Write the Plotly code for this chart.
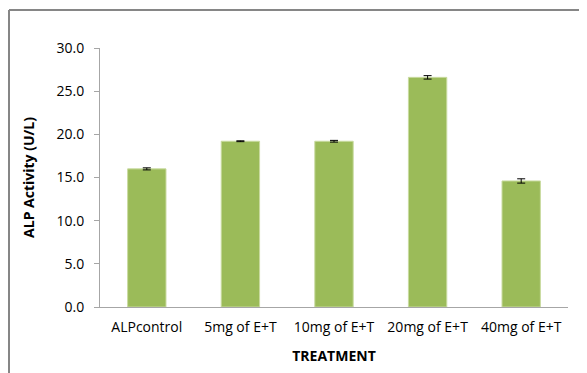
import plotly.graph_objects as go

categories = ["ALPcontrol", "5mg of E+T", "10mg of E+T", "20mg of E+T", "40mg of E+T"]
values = [16.0, 19.2, 19.2, 26.6, 14.6]
errors = [0.12, 0.05, 0.1, 0.2, 0.25]
y_ticks = [0, 5, 10, 15, 20, 25, 30]

# page body has an 8px margin, so the figure is offset by 8px
OFF = 8
W, H = 587 - OFF, 373 - OFF
L, R, T, B = 100 - OFF, 19, 48 - OFF, 66
pw, ph = W - L - R, H - T - B

fig = go.Figure(go.Bar(
    x=categories, y=values,
    marker=dict(color="#9BBB59", line=dict(color="#C9DBA0", width=1)),
    error_y=dict(type="data", array=errors, visible=True, color="#000000", thickness=1, width=4),
    width=0.41,
))

font = "'Open Sans', sans-serif"
fig.update_layout(
    width=W, height=H,
    margin=dict(l=L, r=R, t=T, b=B, autoexpand=False),
    paper_bgcolor="white", plot_bgcolor="white",
    showlegend=False,
    font=dict(family=font, size=14, color="#000000"),
    xaxis=dict(
        showline=True, linecolor="#A6A6A6", linewidth=1,
        ticks="", showgrid=False, automargin=False,
        tickfont=dict(size=14),
        ticklabelstandoff=7,
        title=dict(text="<b>TREATMENT</b>", font=dict(size=14), standoff=16),
    ),
    yaxis=dict(
        range=[0, 30], tickvals=y_ticks, tickformat=".1f",
        showline=True, linecolor="#A6A6A6", linewidth=1,
        ticks="outside", ticklen=5, tickcolor="#A6A6A6",
        showgrid=False, zeroline=False, automargin=False,
        tickfont=dict(size=14),
        ticklabelstandoff=7,
        title=dict(text="<b>ALP Activity (U/L)</b>", font=dict(size=14), standoff=18),
    ),
)

x0 = (1 - L) / pw
y1 = 1 + (T - 2) / ph
fig.add_shape(type="line", xref="paper", yref="paper", x0=x0, x1=1.2, y0=y1, y1=y1,
              line=dict(color="#868686", width=2))
fig.add_shape(type="line", xref="paper", yref="paper", x0=x0, x1=x0, y0=y1, y1=-0.5,
              line=dict(color="#868686", width=2))

fig.write_html("out.html")
